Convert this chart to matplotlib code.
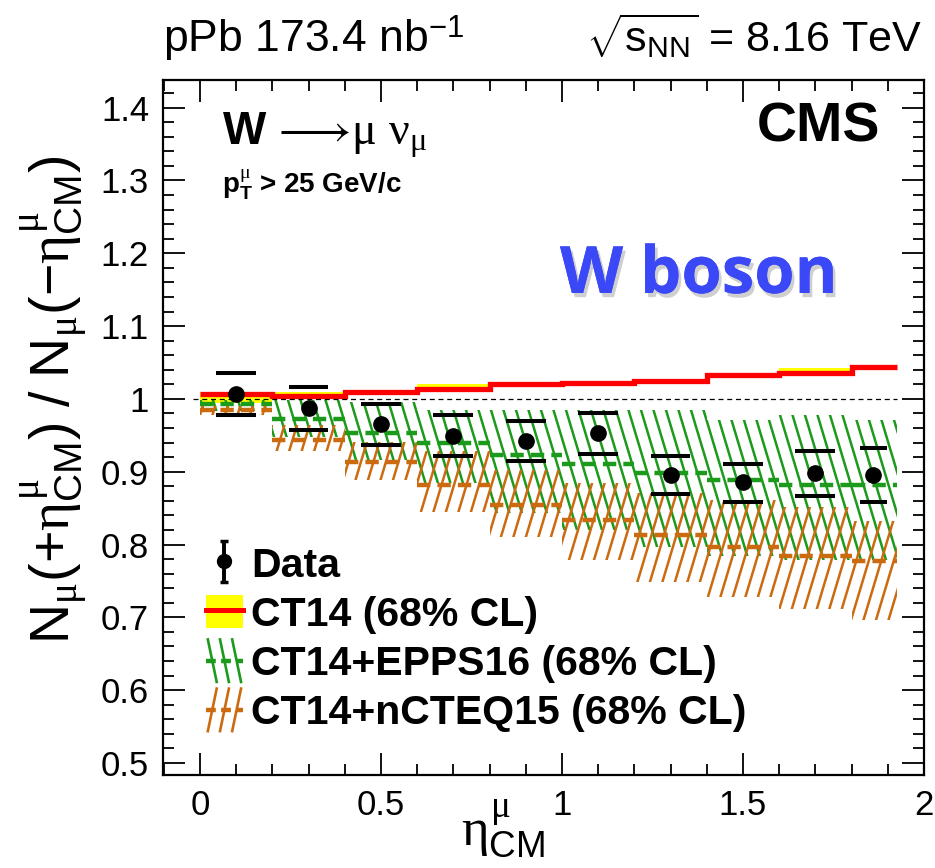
import numpy as np
import matplotlib
matplotlib.use("Agg")
import matplotlib.pyplot as plt
from matplotlib.collections import LineCollection
from matplotlib.patches import Patch
from matplotlib.lines import Line2D
from matplotlib.ticker import MultipleLocator
from matplotlib.legend_handler import HandlerBase
import matplotlib.patheffects as pe

plt.rcParams['font.family'] = ['Liberation Sans', 'DejaVu Sans']
plt.rcParams['mathtext.fontset'] = 'custom'
plt.rcParams['mathtext.rm'] = 'Liberation Sans'
plt.rcParams['mathtext.it'] = 'Liberation Serif'
plt.rcParams['mathtext.bf'] = 'Liberation Sans:bold'
plt.rcParams['mathtext.sf'] = 'Liberation Sans'

# ---------------- data ----------------
eta_edges = [0.0, 0.2, 0.4, 0.6, 0.8, 1.0, 1.2, 1.4, 1.6, 1.8, 1.925]

ct14_central = [1.0065, 1.004, 1.009, 1.013, 1.020, 1.022, 1.025, 1.033, 1.035, 1.044]
ct14_lo      = [0.994, 1.001, 1.005, 1.010, 1.016, 1.018, 1.021, 1.030, 1.032, 1.040]
ct14_hi      = [1.009, 1.010, 1.012, 1.021, 1.022, 1.025, 1.028, 1.036, 1.043, 1.047]

epps_central = [0.993, 0.973, 0.953, 0.939, 0.923, 0.910, 0.898, 0.889, 0.882, 0.882]
epps_lo      = [0.984, 0.948, 0.916, 0.884, 0.843, 0.820, 0.797, 0.784, 0.779, 0.779]
epps_hi      = [0.999, 0.999, 0.996, 0.985, 0.985, 0.985, 0.985, 0.971, 0.978, 0.971]

ncteq_central = [0.985, 0.944, 0.914, 0.882, 0.854, 0.834, 0.813, 0.797, 0.784, 0.777]
ncteq_lo      = [0.978, 0.928, 0.889, 0.845, 0.811, 0.779, 0.749, 0.728, 0.712, 0.696]
ncteq_hi      = [0.990, 0.964, 0.941, 0.928, 0.902, 0.884, 0.871, 0.861, 0.852, 0.832]

data_x    = [0.1, 0.3, 0.5, 0.7, 0.9, 1.1, 1.3, 1.5, 1.7, 1.86]
data_y    = [1.007, 0.987, 0.966, 0.949, 0.942, 0.953, 0.896, 0.886, 0.898, 0.896]
data_stat = [0.007, 0.006, 0.006, 0.006, 0.006, 0.006, 0.007, 0.007, 0.007, 0.008]
sys_hi    = [1.036, 1.016, 0.993, 0.978, 0.969, 0.980, 0.922, 0.911, 0.929, 0.932]
sys_lo    = [0.978, 0.958, 0.937, 0.922, 0.915, 0.925, 0.869, 0.859, 0.866, 0.859]
sys_halfwidth = [0.055, 0.055, 0.055, 0.055, 0.055, 0.055, 0.055, 0.055, 0.055, 0.037]

legend_labels = ["Data", "CT14 (68% CL)", "CT14+EPPS16 (68% CL)", "CT14+nCTEQ15 (68% CL)"]

# ---------------- figure ----------------
W, H = 935, 868
fig = plt.figure(figsize=(W / 100, H / 100), dpi=100)
L, R, T, B = 163, 924, 80, 775
ax = fig.add_axes([L / W, 1 - B / H, (R - L) / W, (B - T) / H])
ax.set_xlim(-0.102, 2.0)
ax.set_ylim(0.4835, 1.438)

YEL = '#ffff00'
RED = '#ff0000'
GRN = '#1c9a1c'
ORG = '#cc6a10'


def fx(px):
    return px / W


def fy(py):
    return 1 - py / H


def steep_hatch(patch, color, direction, spacing_px=12.5, ratio=0.30, lw=1.8):
    aw, ah = (R - L), (B - T)
    s = spacing_px / aw
    k = ratio * ah / aw
    xs = np.arange(-k - s, 1 + k + s, s)
    if direction == 'back':
        segs = [[(x0, 1.0), (x0 + k, 0.0)] for x0 in xs]
    else:
        segs = [[(x0, 0.0), (x0 + k, 1.0)] for x0 in xs]
    lc = LineCollection(segs, colors=color, linewidths=lw, transform=ax.transAxes)
    ax.add_collection(lc, autolim=False)
    lc.set_clip_path(patch)
    return lc


class SteepHatchHandler(HandlerBase):
    def __init__(self, color, direction):
        super().__init__()
        self.color = color
        self.direction = direction

    def create_artists(self, legend, orig_handle, xdescent, ydescent, width, height,
                       fontsize, trans):
        arts = []
        x0s = [0.05, 0.38, 0.71]
        top = height * 1.15 - ydescent
        bot = -height * 0.15 - ydescent
        for f in x0s:
            xa = -xdescent + width * f
            xb = xa + width * 0.24
            if self.direction == 'back':
                arts.append(Line2D([xa, xb], [top, bot], color=self.color, lw=1.9,
                                   transform=trans))
            else:
                arts.append(Line2D([xa, xb], [bot, top], color=self.color, lw=1.9,
                                   transform=trans))
        ym = height / 2 - ydescent
        arts.append(Line2D([-xdescent, -xdescent + width], [ym, ym], color=self.color,
                           lw=3.2, ls=(0, (2.2, 1.2)), transform=trans))
        return arts


edges = np.array(eta_edges)

# CT14 band
ax.stairs(ct14_hi, edges, baseline=ct14_lo, fill=True, color=YEL, lw=0, zorder=2)
ax.stairs(ct14_central, edges, baseline=None, color=RED, lw=3.8, zorder=3)

# EPPS16
p_epps = ax.stairs(epps_hi, edges, baseline=epps_lo, fill=True, facecolor='none',
                   edgecolor='none', lw=0, zorder=2)
steep_hatch(p_epps, GRN, 'back').set_zorder(2.5)
ax.hlines(epps_central, edges[:-1], edges[1:], colors=GRN, lw=3.2,
          linestyles=(0, (3.0, 1.6)), zorder=2.6)

# nCTEQ15
p_ncteq = ax.stairs(ncteq_hi, edges, baseline=ncteq_lo, fill=True, facecolor='none',
                    edgecolor='none', lw=0, zorder=2)
steep_hatch(p_ncteq, ORG, 'fwd').set_zorder(2.7)
ax.hlines(ncteq_central, edges[:-1], edges[1:], colors=ORG, lw=3.2,
          linestyles=(0, (3.0, 1.6)), zorder=2.8)

# reference line
ax.hlines(1.0, -0.02, edges[-1], colors='black', lw=0.9, linestyles=(0, (4, 3)), zorder=3.5)

# data: systematic caps + statistical bars
dx = np.array(data_x)
hw = np.array(sys_halfwidth)
ax.hlines(sys_hi, dx - hw, dx + hw, colors='black', lw=2.9, zorder=4)
ax.hlines(sys_lo, dx - hw, dx + hw, colors='black', lw=2.9, zorder=4)
ax.errorbar(data_x, data_y, yerr=data_stat, fmt='o', color='black', ms=11,
            elinewidth=3.0, capsize=0, zorder=5)

# legend proxies
h_data = ax.errorbar([np.nan], [np.nan], yerr=[0.01], fmt='o', color='black', ms=10,
                     elinewidth=2.8, capsize=3, capthick=2.5)
h_ct14 = (Patch(facecolor=YEL, edgecolor='none'), Line2D([], [], color=RED, lw=3.6))
h_epps = Patch(facecolor='none', edgecolor='none')
h_ncteq = Patch(facecolor='none', edgecolor='none')
leg = ax.legend([h_data, h_ct14, h_epps, h_ncteq], legend_labels,
                handler_map={h_epps: SteepHatchHandler(GRN, 'back'),
                             h_ncteq: SteepHatchHandler(ORG, 'fwd')},
                loc='upper left', bbox_to_anchor=(fx(206), fy(546)),
                bbox_transform=fig.transFigure, frameon=False,
                prop=dict(weight='bold', size=29.5), handlelength=0.9, handleheight=0.85,
                handletextpad=0.2, labelspacing=0.26, borderpad=0, borderaxespad=0)

# axes styling
for sp in ax.spines.values():
    sp.set_linewidth(1.6)
ax.xaxis.set_major_locator(MultipleLocator(0.5))
ax.xaxis.set_minor_locator(MultipleLocator(0.1))
ax.yaxis.set_major_locator(MultipleLocator(0.1))
ax.yaxis.set_minor_locator(MultipleLocator(0.02))
ax.tick_params(which='both', direction='in', top=True, right=True, width=1.3)
ax.tick_params(which='major', length=16, labelsize=25, pad=10)
ax.tick_params(which='minor', length=8)
ax.set_xticks([0, 0.5, 1, 1.5, 2])
ax.set_xticklabels(['0', '0.5', '1', '1.5', '2'])
ax.set_yticks([0.5, 0.6, 0.7, 0.8, 0.9, 1.0, 1.1, 1.2, 1.3, 1.4])
ax.set_yticklabels(['0.5', '0.6', '0.7', '0.8', '0.9', '1', '1.1', '1.2', '1.3', '1.4'])

# texts
fig.text(fx(163), fy(52), r"pPb 173.4 nb$^{\mathrm{-1}}$", fontsize=32, ha='left', va='baseline')
fig.text(fx(922), fy(52), r"$\sqrt{\mathrm{s}_{\mathrm{NN}}}$ = 8.16 TeV", fontsize=31,
         ha='right', va='baseline')
fig.text(fx(222), fy(145), r"$\mathbf{W}\,\longrightarrow\!\mu\ \nu_{\mu}$", fontsize=33,
         ha='left', va='baseline')
fig.text(fx(222), fy(193), r"$\mathbf{p}_{\mathbf{T}}^{\mu}$ > 25 GeV/c", fontsize=20,
         weight='bold', ha='left', va='baseline')
fig.text(fx(880), fy(142), "CMS", fontsize=40, weight='bold', ha='right', va='baseline')
fig.text(fx(560), fy(293), "W boson", fontsize=47, weight='bold', color='#3a48f7',
         family=['Open Sans', 'DejaVu Sans'], ha='left', va='baseline',
         path_effects=[pe.withSimplePatchShadow(offset=(2, -3), shadow_rgbFace='#777777', alpha=0.35),
                       pe.Normal()])
fig.text(fx(55), fy(400),
         r"$\mathrm{N}_{\mu}(+\eta^{\mu}_{\mathrm{CM}})\ /\ \mathrm{N}_{\mu}(-\eta^{\mu}_{\mathrm{CM}})$",
         fontsize=40, rotation=90, ha='center', va='center')
fig.text(fx(503), fy(846), r"$\eta^{\mu}_{\mathrm{CM}}$", fontsize=38, ha='center', va='baseline')

fig.savefig("out.png", dpi=100)
